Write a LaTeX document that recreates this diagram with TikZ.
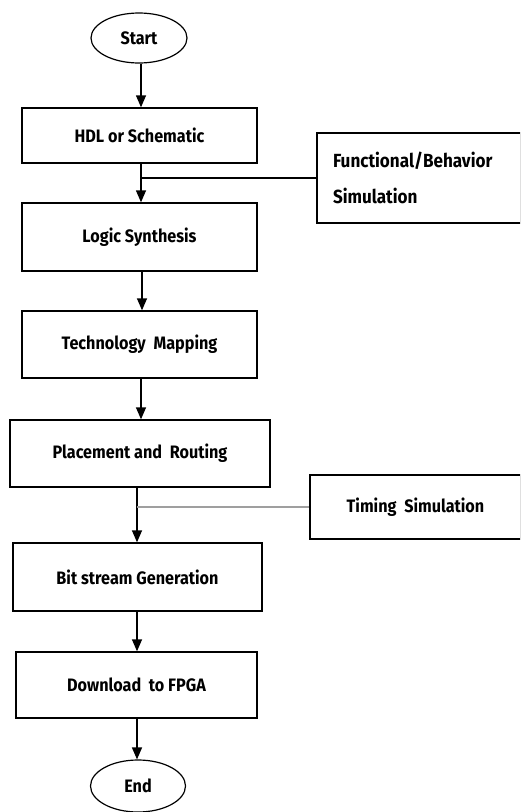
\documentclass[tikz,border=0pt]{standalone}
\usepackage{fontspec}
\setmainfont{Fira Sans}[FakeStretch=0.9]
\usetikzlibrary{arrows.meta,shapes.geometric}
\begin{document}
\begin{tikzpicture}[x=1pt,y=-1pt,
  box/.style={draw,line width=1.4pt,rectangle,inner sep=0pt,font=\bfseries\fontsize{18}{21}\selectfont},
  term/.style={draw,line width=1.2pt,ellipse,inner sep=0pt,font=\bfseries\fontsize{18}{21}\selectfont},
  arr/.style={line width=1.4pt,-{Triangle[width=10pt,length=12pt]}},
  branch/.style={line width=1.2pt},
  graybranch/.style={line width=1.8pt,gray!75}]
\useasboundingbox (0,0) rectangle (520,812);
\clip (0,0) rectangle (520,812);
\fill[white] (0,0) rectangle (520,812);
\node[term,minimum width=96pt,minimum height=50pt] (start) at (139,38) {Start};
\node[box,minimum width=235pt,minimum height=55pt] (hdl) at (139.5,135.5) {HDL or Schematic};
\node[box,minimum width=204pt,minimum height=90pt,text width=172pt,align=left,
      font=\bfseries\fontsize{19}{36}\selectfont] (func) at (419,178) {Functional/Behavior\\Simulation};
\node[box,minimum width=235pt,minimum height=68pt] (logic) at (139.5,237) {Logic Synthesis};
\node[box,minimum width=235pt,minimum height=67pt] (tech) at (139.5,344.5) {Technology\ \ Mapping};
\node[box,minimum width=260pt,minimum height=67pt] (place) at (140,453.5) {Placement and\ \ Routing};
\node[box,minimum width=211pt,minimum height=64pt] (timing) at (415.5,507) {Timing\ \ Simulation};
\node[box,minimum width=249pt,minimum height=68pt] (bit) at (137.5,577) {Bit stream Generation};
\node[box,minimum width=241pt,minimum height=66pt] (down) at (136.5,685) {Download\ \ to FPGA};
\node[term,minimum width=95pt,minimum height=52pt] (end) at (138,786) {End};
\coordinate (j1) at (141,178);
\coordinate (j2) at (137,507);
\draw[arr] (start.south -| 141,0) -- (141,0 |- hdl.north);
\draw[arr] (hdl.south -| 141,0) -- (141,0 |- logic.north);
\draw[branch] (j1) -- (func.west);
\draw[arr] (logic.south -| 142,0) -- (142,0 |- tech.north);
\draw[arr] (tech.south -| 141,0) -- (141,0 |- place.north);
\draw[arr] (place.south -| 137,0) -- (137,0 |- bit.north);
\draw[graybranch] (j2) -- (timing.west);
\draw[arr] (bit.south -| 137,0) -- (137,0 |- down.north);
\draw[arr] (down.south -| 137,0) -- (137,0 |- end.north);
\end{tikzpicture}
\end{document}
